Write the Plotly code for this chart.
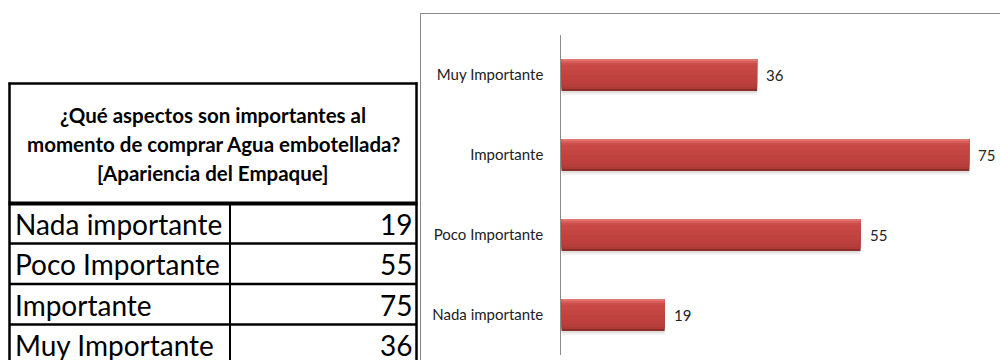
import plotly.graph_objects as go

# Survey data: "Apariencia del Empaque"
categories = ["Nada importante", "Poco Importante", "Importante", "Muy Importante"]
counts = [19, 55, 75, 36]
table_title = [
    "¿Qué aspectos son importantes al",
    "momento de comprar Agua embotellada?",
    "[Apariencia del Empaque]",
]

W, H = 1000, 360
FONT = "Lato"


def px(x):
    return x / W


def py(y):
    return 1 - y / H


fig = go.Figure()

# --- bar chart: layered bars give a bevelled, shaded look ---
BAR_W = 0.4
unit = BAR_W / 32.0  # one pixel of bar thickness in category units

# soft drop shadow under each bar
for k, a in [(4, 0.05), (2, 0.08)]:
    fig.add_trace(go.Bar(
        x=counts, y=categories, orientation="h",
        width=BAR_W, offset=-BAR_W / 2 - k * unit,
        marker=dict(color=f"rgba(0,0,0,{a})", line=dict(width=0)),
        hoverinfo="skip",
    ))
layers = [
    # (thickness from top in px, colour)
    (32, "#8C2D2A"),
    (30, "#AC3936"),
    (28, "#B53D3A"),
    (25, "#BB403D"),
    (21, "#BF423F"),
    (16, "#C34541"),
    (11, "#C74844"),
    (6, "#CC4E4A"),
    (4, "#D65E5A"),
    (2, "#E37571"),
]
for thick, col in layers:
    fig.add_trace(go.Bar(
        x=counts, y=categories, orientation="h",
        width=thick * unit, offset=BAR_W / 2 - thick * unit,
        marker=dict(color=col, line=dict(width=0)),
        hoverinfo="skip",
    ))

# value labels next to the bar ends
for cat, val in zip(categories, counts):
    fig.add_annotation(
        x=val, y=cat, xref="x", yref="y", text=str(val),
        showarrow=False, xanchor="left", yanchor="middle", xshift=7,
        font=dict(family=FONT, size=15, color="#222222"),
    )

# chart frame
fig.add_shape(type="rect", xref="paper", yref="paper",
              x0=px(420.5), x1=px(1010), y0=py(375), y1=py(13.5),
              line=dict(color="#888888", width=1), fillcolor="rgba(0,0,0,0)",
              layer="below")

# --- table on the left ---
L, R, MID = 9.5, 416.5, 230
TOP, HEAD_BOT = 83.5, 203.5
row_lines = [243.5, 284.0, 324.5]
BOT = 366
black = "#000000"


def hline(y, x0, x1, w):
    fig.add_shape(type="line", xref="paper", yref="paper",
                  x0=px(x0), x1=px(x1), y0=py(y), y1=py(y),
                  line=dict(color=black, width=w))


def vline(x, y0, y1, w):
    fig.add_shape(type="line", xref="paper", yref="paper",
                  x0=px(x), x1=px(x), y0=py(y0), y1=py(y1),
                  line=dict(color=black, width=w))


hline(TOP, L - 1, R + 1, 2.5)
hline(HEAD_BOT, L - 1, R + 1, 4)
for y in row_lines:
    hline(y, L, R, 2.5)
vline(L, TOP - 1, BOT, 2.5)
vline(R, TOP - 1, BOT, 2.5)
vline(MID, HEAD_BOT, BOT, 2)

for i, line in enumerate(table_title):
    fig.add_annotation(
        x=px(213), y=py(115 + 29 * i), xref="paper", yref="paper",
        text=f"<b>{line}</b>", showarrow=False,
        xanchor="center", yanchor="middle",
        font=dict(family=FONT, size=20.5, color=black),
    )

row_tops = [HEAD_BOT] + row_lines
for i, (cat, val) in enumerate(zip(categories, counts)):
    yc = row_tops[i] + 20.5
    fig.add_annotation(
        x=px(13), y=py(yc), xref="paper", yref="paper", text=cat,
        showarrow=False, xanchor="left", yanchor="middle",
        font=dict(family=FONT, size=28, color=black),
    )
    fig.add_annotation(
        x=px(414), y=py(yc), xref="paper", yref="paper", text=str(val),
        showarrow=False, xanchor="right", yanchor="middle",
        font=dict(family=FONT, size=28, color=black),
    )

fig.update_layout(
    width=W, height=H,
    margin=dict(l=0, r=0, t=0, b=0),
    paper_bgcolor="white", plot_bgcolor="white",
    barmode="overlay", showlegend=False,
    xaxis=dict(domain=[px(561.3), px(996.5)], range=[0, 80],
               showgrid=False, zeroline=False, showline=False,
               showticklabels=False, ticks=""),
    yaxis=dict(domain=[py(355), py(35)], type="category",
               categoryorder="array", categoryarray=categories,
               showgrid=False, zeroline=False,
               showline=True, linecolor="#8C8C8C", linewidth=1,
               ticks="", ticklabelstandoff=14,
               tickfont=dict(family=FONT, size=15, color="#222222")),
)

fig.write_html("out.html")
